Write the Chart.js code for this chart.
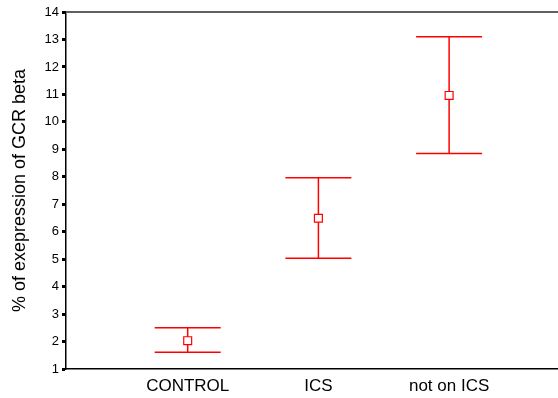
<!DOCTYPE html>
<html>
<head>
<meta charset="utf-8">
<script src="https://cdn.jsdelivr.net/npm/chart.js@4.4.1/dist/chart.umd.min.js"></script>
<style>
  html, body { margin: 0; padding: 0; background: #fff; }
  #wrap { width: 558px; height: 398px; }
</style>
</head>
<body>
<div id="wrap"><canvas id="errChart" width="558" height="398"></canvas></div>
<script>
// groups and their position on the x axis
const categories = ['CONTROL', 'ICS', 'not on ICS'];
const groupPos = [1, 2, 3];
// mean and error bar ends (% of exepression of GCR beta)
const means = [2.03, 6.49, 10.96];
const lower = [1.61, 5.03, 8.85];
const upper = [2.50, 7.96, 13.10];
// y axis ticks
const yTicks = [1, 2, 3, 4, 5, 6, 7, 8, 9, 10, 11, 12, 13, 14];

const RED = '#ff0000';
const CAP_HALF = 33; // px
const FONT = '"Liberation Sans", Arial, sans-serif';

const errorBars = {
    id: 'errorBars',
    beforeDatasetsDraw(chart) {
        const ctx = chart.ctx;
        const xs = chart.scales.x;
        const ys = chart.scales.y;
        ctx.save();
        ctx.strokeStyle = RED;
        ctx.lineWidth = 1.5;
        groupPos.forEach((g, i) => {
            const x = xs.getPixelForValue(g);
            const yl = ys.getPixelForValue(lower[i]);
            const yh = ys.getPixelForValue(upper[i]);
            ctx.beginPath();
            ctx.moveTo(x, yl);
            ctx.lineTo(x, yh);
            ctx.moveTo(x - CAP_HALF, yl);
            ctx.lineTo(x + CAP_HALF, yl);
            ctx.moveTo(x - CAP_HALF, yh);
            ctx.lineTo(x + CAP_HALF, yh);
            ctx.stroke();
        });
        ctx.restore();
    },
    afterDraw(chart) {
        // grey frame line along the top of the plot
        const ctx = chart.ctx;
        const a = chart.chartArea;
        ctx.save();
        ctx.strokeStyle = '#606060';
        ctx.lineWidth = 2;
        ctx.beginPath();
        ctx.moveTo(a.left, a.top);
        ctx.lineTo(chart.width, a.top);
        ctx.stroke();
        ctx.restore();
    }
};

document.addEventListener('DOMContentLoaded', function () {
    const ctx = document.getElementById('errChart').getContext('2d');

    new Chart(ctx, {
        type: 'scatter',
        data: {
            datasets: [{
                data: groupPos.map((g, i) => ({ x: g, y: means[i] })),
                pointStyle: 'rect',
                pointRadius: 5.6,
                pointBorderWidth: 1.2,
                borderColor: RED,
                backgroundColor: '#ffffff'
            }]
        },
        options: {
            responsive: false,
            animation: false,
            events: [],
            layout: { autoPadding: false, padding: { top: 12, right: 0, left: 0, bottom: 0 } },
            plugins: {
                legend: { display: false },
                tooltip: { enabled: false }
            },
            scales: {
                x: {
                    type: 'linear',
                    min: 0.069,
                    max: 3.833,
                    afterBuildTicks: (scale) => {
                        scale.ticks = groupPos.map(v => ({ value: v }));
                    },
                    afterFit: (scale) => {
                        scale.height = 29;
                        scale.paddingLeft = 0;
                        scale.paddingRight = 0;
                    },
                    grid: { display: false, drawTicks: false },
                    border: { color: '#000', width: 1.5 },
                    ticks: {
                        color: '#000',
                        padding: 7,
                        maxRotation: 0,
                        autoSkip: false,
                        font: { family: FONT, size: 17 },
                        callback: (v) => categories[groupPos.indexOf(v)] || ''
                    }
                },
                y: {
                    min: 1,
                    max: 14,
                    afterBuildTicks: (scale) => {
                        scale.ticks = yTicks.map(v => ({ value: v }));
                    },
                    afterFit: (scale) => { scale.width = 66; },
                    grid: {
                        drawOnChartArea: false,
                        drawTicks: true,
                        tickLength: 4,
                        tickWidth: 3,
                        tickColor: '#000'
                    },
                    border: { color: '#000', width: 1.5 },
                    ticks: {
                        color: '#000',
                        padding: 3,
                        autoSkip: false,
                        font: { family: FONT, size: 13 }
                    },
                    title: {
                        display: true,
                        text: '% of exepression of GCR beta',
                        color: '#000',
                        padding: { top: 9, bottom: 4 },
                        font: { family: FONT, size: 18, weight: 'normal' }
                    }
                }
            }
        },
        plugins: [errorBars]
    });
});
</script>
</body>
</html>
